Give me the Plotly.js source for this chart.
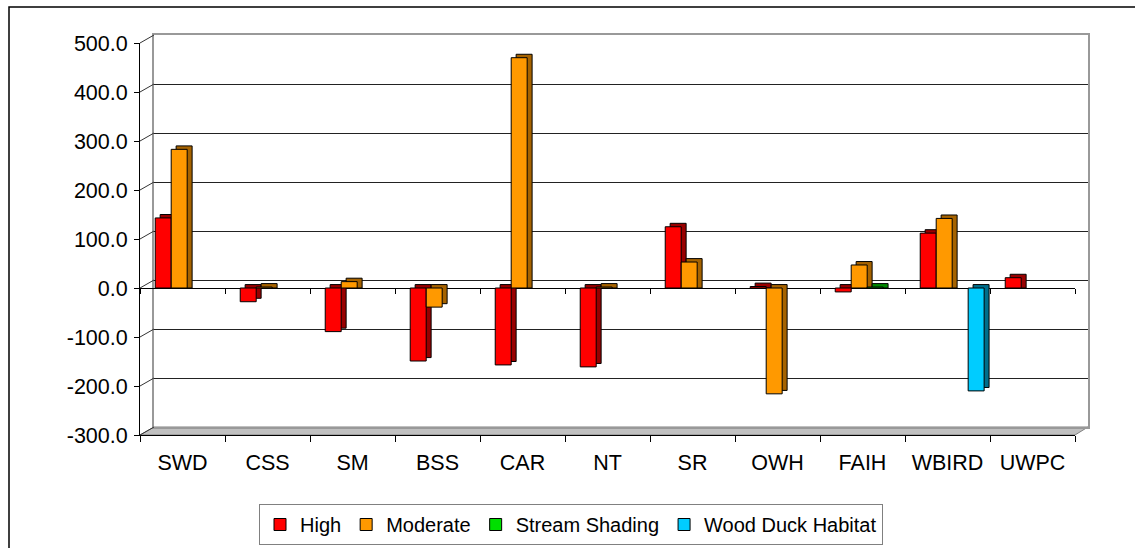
<!DOCTYPE html>
<html><head><meta charset="utf-8">
<script src="https://cdn.plot.ly/plotly-3.0.1.min.js"></script>
<style>html,body{margin:0;padding:0;background:#fff}#chart{width:1135px;height:548px}</style>
</head><body><div id="chart"></div>
<script>
// ---- data ----
const categories = ['SWD','CSS','SM','BSS','CAR','NT','SR','OWH','FAIH','WBIRD','UWPC'];
const high          = [143, -28, -89, -149, -157, -161, 125, 3, -8, 112, 21];
const moderate      = [283, 2, 13, -39, 470, 2, 53, -216, 47, 142, null];
const streamShading = [null, null, null, null, null, null, null, null, 2, null, null];
const woodDuck      = [null, null, null, null, null, null, null, null, null, -210, null];
const seriesNames   = ['High', 'Moderate', 'Stream Shading', 'Wood Duck Habitat'];
const yTicks        = [-300, -200, -100, 0, 100, 200, 300, 400, 500];
const yTickText     = yTicks.map(v => v.toFixed(1));

// ---- styles ----
const frontColors = ['#FF0000', '#FF9900', '#00E000', '#00CCFF'];
const sideColors  = ['#990000', '#A66300', '#008800', '#006E8C'];
const W = 1135, H = 548, L = 140, R = 47, T = 35, B = 113;
const PW = W - L - R, PH = H - T - B;
const frontXDom = [0, 935 / PW], backXDom = [14 / PW, 1];
const frontYDom = [0, 392 / PH], backYDom = [8 / PH, 1];
const FONT = 'Liberation Sans, Arial, sans-serif';

const barW = 0.188, shift = 0.055, depthX = 0.058, depthY = 7;
const allSeries = [high, moderate, streamShading, woodDuck];

const traces = [];
// back-wall subplot placeholder
traces.push({type: 'scatter', x: [0], y: [null], xaxis: 'x', yaxis: 'y', showlegend: false, hoverinfo: 'skip'});
// depth faces (drawn first): extrusion behind each front face
allSeries.forEach((vals, i) => {
  traces.push({
    type: 'bar', x: categories,
    y: vals.map(v => v === null ? null : (v >= 0 ? v + depthY : v)),
    base: vals.map(v => (v !== null && v >= 0) ? 0 : depthY),
    offset: -2 * barW + shift + i * barW + depthX, width: barW,
    xaxis: 'x2', yaxis: 'y2', showlegend: false, hoverinfo: 'skip',
    marker: {color: sideColors[i], line: {color: '#000', width: 1}}
  });
});
// front faces
allSeries.forEach((vals, i) => {
  traces.push({
    type: 'bar', name: seriesNames[i], x: categories, y: vals,
    offset: -2 * barW + shift + i * barW, width: barW,
    xaxis: 'x2', yaxis: 'y2',
    marker: {color: frontColors[i], line: {color: '#000', width: 1}}
  });
});
// zero-plane tick marks axis
traces.push({type: 'scatter', x: categories, y: categories.map(() => null), xaxis: 'x3', yaxis: 'y2', showlegend: false, hoverinfo: 'skip'});

// ---- decorative shapes ----
const shapes = [];
const fy = v => frontYDom[0] + (v + 300) / 800 * (frontYDom[1] - frontYDom[0]);
const by = v => backYDom[0] + (v + 300) / 800 * (backYDom[1] - backYDom[0]);
// floor
shapes.push({type: 'path', xref: 'paper', yref: 'paper', layer: 'below',
  path: `M ${frontXDom[0]},${frontYDom[0]} L ${frontXDom[1]},${frontYDom[0]} L ${backXDom[1]},${backYDom[0]} L ${backXDom[0]},${backYDom[0]} Z`,
  fillcolor: '#C0C0C0', line: {color: '#808080', width: 1}});
// connectors from front ticks to back wall
yTicks.forEach(v => {
  shapes.push({type: 'line', xref: 'paper', yref: 'paper', x0: frontXDom[0], y0: fy(v), x1: backXDom[0], y1: by(v),
    line: {color: '#333', width: 1}});
});
// outer chart border (left + top)
const bx0 = (9 - L) / PW, byTop = (PH + T - 7) / PH, byBot = -(B + 20) / PH, bxR = (W + 20 - L) / PW;
shapes.push({type: 'path', xref: 'paper', yref: 'paper',
  path: `M ${bx0},${byBot} L ${bx0},${byTop} L ${bxR},${byTop}`,
  line: {color: '#000', width: 1.5}});

const layout = {
  width: W, height: H,
  margin: {l: L, r: R, t: T, b: B},
  paper_bgcolor: '#fff', plot_bgcolor: 'rgba(0,0,0,0)',
  barmode: 'overlay',
  showlegend: true,
  font: {family: FONT, color: '#000'},
  xaxis: {domain: backXDom, range: [0, 1], showgrid: false, zeroline: false, showticklabels: false, ticks: '',
    showline: true, linecolor: '#999', linewidth: 2, mirror: true, fixedrange: true},
  yaxis: {domain: backYDom, range: [-300, 500], tickvals: yTicks, showgrid: true, gridcolor: '#222', gridwidth: 1,
    zeroline: true, zerolinecolor: '#222', zerolinewidth: 1, showticklabels: false, ticks: '',
    showline: true, linecolor: '#999', linewidth: 2, mirror: true, anchor: 'x'},
  xaxis2: {domain: frontXDom, anchor: 'y2', type: 'category', categoryorder: 'array', categoryarray: categories,
    range: [-0.5, categories.length - 0.5], showgrid: false, zeroline: false,
    showline: true, linecolor: '#000', linewidth: 1, ticks: 'outside', tickson: 'boundaries', ticklen: 6,
    tickcolor: '#000', tickfont: {family: FONT, size: 21.5, color: '#000'}, ticklabelstandoff: 8},
  yaxis2: {domain: frontYDom, anchor: 'x2', range: [-300, 500], tickvals: yTicks, ticktext: yTickText,
    showgrid: false, zeroline: true, zerolinecolor: '#000', zerolinewidth: 1,
    showline: true, linecolor: '#000', linewidth: 1, ticks: 'outside', ticklen: 5, tickcolor: '#000',
    tickfont: {family: FONT, size: 21.5, color: '#000'}, ticklabelstandoff: 2},
  xaxis3: {domain: frontXDom, overlaying: 'x2', anchor: 'free', position: fy(0), type: 'category',
    categoryorder: 'array', categoryarray: categories, range: [-0.5, categories.length - 0.5],
    showgrid: false, zeroline: false, showline: false, showticklabels: false,
    ticks: 'outside', tickson: 'boundaries', ticklen: 5, tickcolor: '#000'},
  legend: {orientation: 'h', xref: 'container', yref: 'container',
    x: 259 / W, xanchor: 'left', y: 1 - 504 / H, yanchor: 'top',
    bordercolor: '#808080', borderwidth: 1, bgcolor: '#fff',
    font: {family: FONT, size: 20, color: '#000'}, traceorder: 'normal'},
  shapes: shapes
};

Plotly.newPlot('chart', traces, layout, {displayModeBar: false, staticPlot: true});
</script>
</body></html>
